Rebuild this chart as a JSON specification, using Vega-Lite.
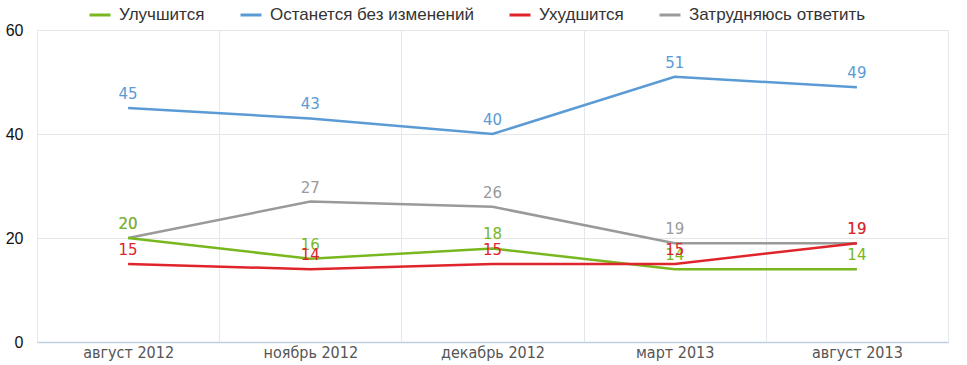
{
  "$schema": "https://vega.github.io/schema/vega-lite/v6.json",
  "width": 911,
  "height": 312,
  "autosize": {"type": "none"},
  "padding": {"left": 37, "top": 30, "right": 19, "bottom": 23},
  "background": "white",
  "config": {"view": {"stroke": null}},
  "data": {
    "values": [
      {"period": "август 2012", "series": "Затрудняюсь ответить", "value": 20},
      {"period": "ноябрь 2012", "series": "Затрудняюсь ответить", "value": 27},
      {"period": "декабрь 2012", "series": "Затрудняюсь ответить", "value": 26},
      {"period": "март 2013", "series": "Затрудняюсь ответить", "value": 19},
      {"period": "август 2013", "series": "Затрудняюсь ответить", "value": 19},
      {"period": "август 2012", "series": "Останется без изменений", "value": 45},
      {"period": "ноябрь 2012", "series": "Останется без изменений", "value": 43},
      {"period": "декабрь 2012", "series": "Останется без изменений", "value": 40},
      {"period": "март 2013", "series": "Останется без изменений", "value": 51},
      {"period": "август 2013", "series": "Останется без изменений", "value": 49},
      {"period": "август 2012", "series": "Улучшится", "value": 20},
      {"period": "ноябрь 2012", "series": "Улучшится", "value": 16},
      {"period": "декабрь 2012", "series": "Улучшится", "value": 18},
      {"period": "март 2013", "series": "Улучшится", "value": 14},
      {"period": "август 2013", "series": "Улучшится", "value": 14},
      {"period": "август 2012", "series": "Ухудшится", "value": 15},
      {"period": "ноябрь 2012", "series": "Ухудшится", "value": 14},
      {"period": "декабрь 2012", "series": "Ухудшится", "value": 15},
      {"period": "март 2013", "series": "Ухудшится", "value": 15},
      {"period": "август 2013", "series": "Ухудшится", "value": 19}
    ]
  },
  "encoding": {
    "x": {
      "field": "period",
      "type": "ordinal",
      "sort": ["август 2012", "ноябрь 2012", "декабрь 2012", "март 2013", "август 2013"],
      "scale": {"type": "band", "paddingInner": 0, "paddingOuter": 0},
      "axis": {
        "title": null,
        "tickBand": "extent",
        "labelAngle": 0,
        "labelFont": "DejaVu Sans Condensed",
        "labelFontSize": 16,
        "labelColor": "#555555",
        "labelPadding": 2,
        "ticks": false,
        "domainColor": "#c0d0e0",
        "domainWidth": 1.5,
        "grid": true,
        "gridColor": "#e3e7ee",
        "gridWidth": 1
      }
    },
    "y": {
      "field": "value",
      "type": "quantitative",
      "scale": {"domain": [0, 60], "nice": false},
      "axis": {
        "title": null,
        "values": [0, 20, 40, 60],
        "domain": false,
        "ticks": false,
        "labelFont": "Liberation Sans",
        "labelFontSize": 16,
        "labelColor": "#111111",
        "labelPadding": 14,
        "gridColor": "#e6e6e6",
        "gridWidth": 1
      }
    },
    "color": {
      "field": "series",
      "type": "nominal",
      "scale": {
        "domain": ["Улучшится", "Останется без изменений", "Ухудшится", "Затрудняюсь ответить"],
        "range": ["#78b81e", "#5b9bd5", "#e0242b", "#9a9a9a"]
      },
      "legend": {
        "title": null,
        "orient": "none",
        "direction": "horizontal",
        "legendX": 51,
        "legendY": -27,
        "symbolType": "stroke",
        "symbolSize": 441,
        "symbolStrokeWidth": 3,
        "labelFont": "Liberation Sans",
        "labelFontSize": 17,
        "labelColor": "#333333",
        "labelLimit": 0,
        "labelOffset": 7,
        "columnPadding": 29
      }
    }
  },
  "layer": [
    {"mark": {"type": "line", "strokeWidth": 2.5}},
    {
      "mark": {"type": "text", "dy": -9, "baseline": "alphabetic", "font": "DejaVu Sans", "fontSize": 15},
      "encoding": {"text": {"field": "value", "type": "quantitative"}}
    }
  ]
}
